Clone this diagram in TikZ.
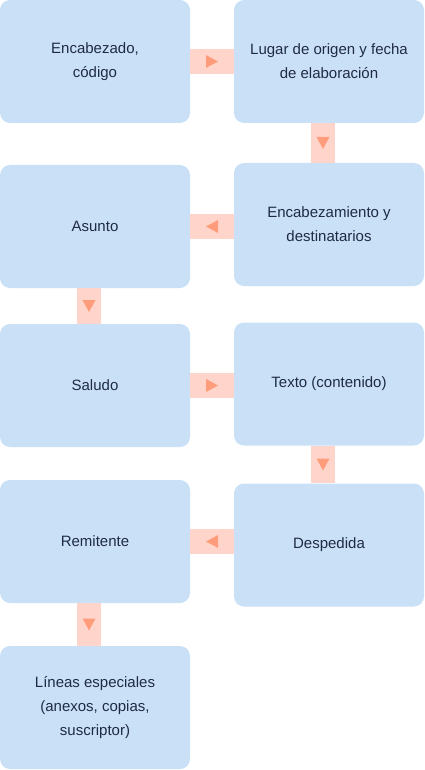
\documentclass[tikz,border=0pt]{standalone}
\usepackage{fontspec}
\setmainfont{Liberation Sans}
\definecolor{boxblue}{HTML}{CAE0F7}
\definecolor{linkpink}{HTML}{FFD5CB}
\definecolor{tippink}{HTML}{FF9C7C}
\definecolor{textnavy}{HTML}{1F2B46}
\begin{document}
\begin{tikzpicture}[x=1pt,y=-1pt,
  part/.style={fill=boxblue,rounded corners=10pt,minimum width=190pt,minimum height=123pt,
    inner sep=0pt,align=center,text=textnavy,font=\fontsize{15}{24}\selectfont},
  link/.style={draw=linkpink,line width=24.5pt},
  tri/.pic={\fill[tippink,draw=none] (6pt,0) -- (-6pt,6.5pt) -- (-6pt,-6.5pt) -- cycle;}]
\useasboundingbox (0,0) rectangle (425,770);
\node[part] (a1) at (95,61.5)  {Encabezado,\\ código};
\node[part] (a2) at (329,61.5) {Lugar de origen y fecha\\ de elaboración};
\node[part] (a3) at (329,224.5) {Encabezamiento y\\ destinatarios};
\node[part] (a4) at (95,226.5) {Asunto};
\node[part] (a5) at (95,385.5) {Saludo};
\node[part] (a6) at (329,384)  {Texto (contenido)};
\node[part] (a7) at (329,545)  {Despedida};
\node[part] (a8) at (95,541.5) {Remitente};
\node[part] (a9) at (95,707.5) {Líneas especiales\\ (anexos, copias,\\ suscriptor)};
% connectors
\draw[link] (a1.east) -- pic[sloped,allow upside down]{tri} (a2.west |- a1.east);
\draw[link] ([xshift=-6pt]a2.south) -- pic[sloped,allow upside down]{tri} ([xshift=-6pt]a3.north);
\draw[link] (a3.west |- a4.east) -- pic[sloped,allow upside down]{tri} (a4.east);
\draw[link] ([xshift=-6pt]a4.south) -- pic[sloped,allow upside down]{tri} ([xshift=-6pt]a5.north);
\draw[link] (a5.east) -- pic[sloped,allow upside down]{tri} (a6.west |- a5.east);
\draw[link] ([xshift=-6pt]a6.south) -- pic[sloped,allow upside down]{tri} ([xshift=-6pt]a7.north);
\draw[link] (a7.west |- a8.east) -- pic[sloped,allow upside down]{tri} (a8.east);
\draw[link] ([xshift=-6pt]a8.south) -- pic[sloped,allow upside down]{tri} ([xshift=-6pt]a9.north);
\end{tikzpicture}
\end{document}
